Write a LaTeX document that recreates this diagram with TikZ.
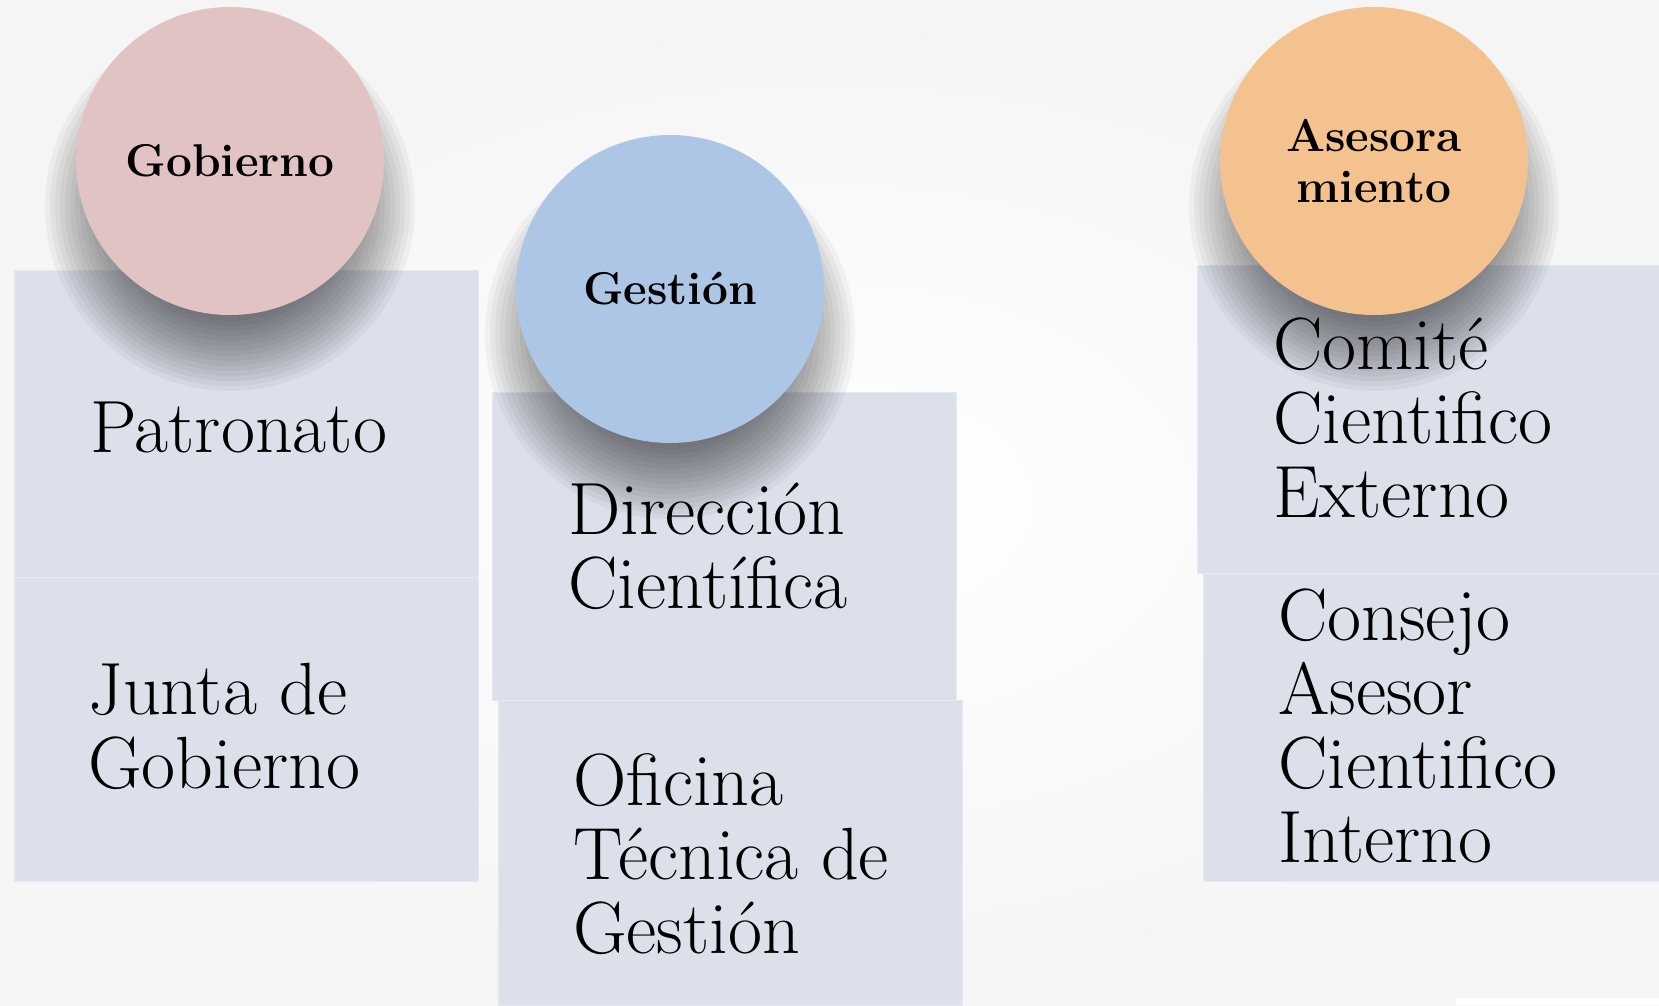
\documentclass[tikz,border=0pt]{standalone}
\usepackage{fontspec}
\usetikzlibrary{calc}
\definecolor{boxfill}{HTML}{DCE0EB}
\definecolor{boxedge}{HTML}{E6E9F0}
\definecolor{pinkc}{HTML}{E2C3C4}
\definecolor{bluec}{HTML}{ADC6E6}
\definecolor{orangec}{HTML}{F4C28E}
\tikzset{
  box/.style={fill=boxfill, draw=boxedge, line width=1pt, anchor=north west, inner sep=0pt},
  lbl/.style={anchor=base west, inner sep=0pt, align=left, font=\fontsize{74}{74}\selectfont},
  disc/.style={circle, minimum size=308pt, inner sep=0pt, align=center,
               font=\bfseries\fontsize{46}{53}\selectfont},
}
\newcommand{\discshadow}[1]{%
  \foreach \i in {0,...,15}
    \fill[black, opacity=0.04] ($(#1)+(0,45)$) circle ({110+5*\i});}
\begin{document}
\begin{tikzpicture}[x=1pt, y=-1pt]
\useasboundingbox (0,0) rectangle (1659,1005);
\shade[inner color=white, outer color=black!4] (0,0) rectangle (1659,1005);
\fill[white] (1456,998) rectangle (1659,1005);

% boxes
\node[box, minimum width=464pt, minimum height=307pt] (bA) at (14,270) {};
\node[box, minimum width=464pt, minimum height=304pt] (bB) at (14,577) {};
\node[box, minimum width=464pt, minimum height=305pt] (bD) at (498,700) {};
\node[box, minimum width=464pt, minimum height=308pt] (bC) at (492,392) {};
\node[box, minimum width=462pt, minimum height=308pt] (bF) at (1203,573) {};
\node[box, minimum width=462pt, minimum height=308pt] (bE) at (1197,265) {};

% circle centres
\coordinate (cg) at (230,161);
\coordinate (cs) at (670,289);
\coordinate (ca) at (1374,161);

% shadows
\discshadow{cg}
\discshadow{cs}
\discshadow{ca}

% circles
\node[disc, fill=pinkc] (gob) at (cg) {Gobierno};
\node[disc, fill=bluec] (ges) at (cs) {Gestión};
\node[disc, fill=orangec] (ase) at (ca) {Asesora\\[-2pt]miento};

% box texts (anchor = baseline of last line)
\node[lbl] (tA) at (90,452) {Patronato};
\node[lbl] (tB) at (88,788) {Junta de\\Gobierno};
\node[lbl] (tC) at (568,608) {Dirección\\Científica};
\node[lbl] (tD) at (573,953) {Oficina\\Técnica de\\Gestión};
\node[lbl] (tE) at (1273,517) {Comité\\Cientifico\\Externo};
\node[lbl] (tF) at (1278,862) {Consejo\\Asesor\\Cientifico\\Interno};
\end{tikzpicture}
\end{document}
